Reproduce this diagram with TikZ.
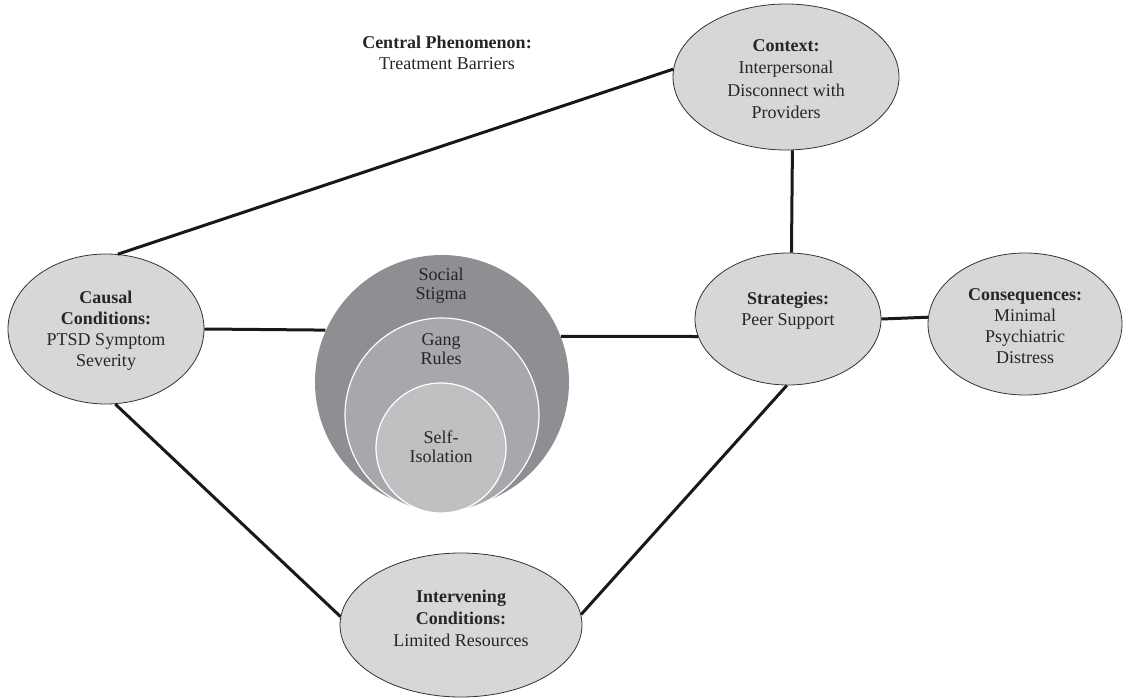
\documentclass[tikz,border=0pt]{standalone}
\usepackage{fontspec}
\setmainfont{Liberation Serif}
\usetikzlibrary{shapes.geometric}
\definecolor{ellfill}{HTML}{D6D7D9}
\definecolor{ringA}{HTML}{8E8F92}
\definecolor{ringB}{HTML}{A7A8AB}
\definecolor{ringC}{HTML}{BFC0C2}
\definecolor{edgegray}{HTML}{333333}
\begin{document}
\begin{tikzpicture}[x=1pt,y=-1pt,
  ell/.style={ellipse, draw=edgegray, line width=0.8pt, fill=ellfill, inner sep=0pt},
  lbl/.style={align=center, font=\fontsize{18}{21}\selectfont, inner sep=0pt, text=black!85},
  conn/.style={line width=3pt, draw=black!90},
  ring/.style={circle, inner sep=0pt, draw=white, line width=1.2pt}]
\useasboundingbox (0,0) rectangle (1124,700);

% ellipses
\node[ell, minimum width=196pt, minimum height=150pt] (causal) at (106,329) {};
\node[ell, minimum width=226pt, minimum height=146pt] (context) at (786,77) {};
\node[ell, minimum width=186pt, minimum height=132pt] (strat) at (788,319) {};
\node[ell, minimum width=194pt, minimum height=142pt] (conseq) at (1025,324) {};
\node[ell, minimum width=242pt, minimum height=144pt] (interv) at (461,625) {};

% nested circles
\node[ring, draw=none, fill=ringA, minimum size=254pt] (outer) at (442,382) {};
\node[ring, fill=ringB, minimum size=194pt] (middle) at (442,415) {};
\node[ring, fill=ringC, minimum size=130pt] (inner) at (441,448) {};

% texts
\node[lbl] (centralT) at (447,53) {\textbf{Central Phenomenon:}\\Treatment Barriers};
\node[lbl] (causalT) at (106,331) {\textbf{Causal}\\\textbf{Conditions:}\\PTSD Symptom\\Severity};
\node[lbl, font=\fontsize{18}{22.5}\selectfont] (contextT) at (786,79) {\textbf{Context:}\\Interpersonal\\Disconnect with\\Providers};
\node[lbl] (stratT) at (788,311) {\textbf{Strategies:}\\Peer Support};
\node[lbl] (conseqT) at (1025,326) {\textbf{Consequences:}\\Minimal\\Psychiatric\\Distress};
\node[lbl, font=\fontsize{18}{22}\selectfont] (intervT) at (461,618) {\textbf{Intervening}\\\textbf{Conditions:}\\Limited Resources};
\node[lbl, font=\fontsize{18}{19}\selectfont] (socialT) at (441,286) {Social\\Stigma};
\node[lbl, font=\fontsize{18}{19}\selectfont] (gangT) at (441,349) {Gang\\Rules};
\node[lbl, font=\fontsize{18}{19}\selectfont] (selfT) at (441,447) {Self-\\Isolation};

% connectors
\draw[conn] (causal.81) -- (context.176);
\draw[conn] (context.-85) -- (strat.87);
\draw[conn] (causal.east) -- (outer.156);
\draw[conn] (outer.21) -- (strat.191);
\draw[conn] (strat.east) -- (conseq.176);
\draw[conn] (causal.-83) -- (interv.176);
\draw[conn] (interv.5) -- (strat.-91);
\end{tikzpicture}
\end{document}
